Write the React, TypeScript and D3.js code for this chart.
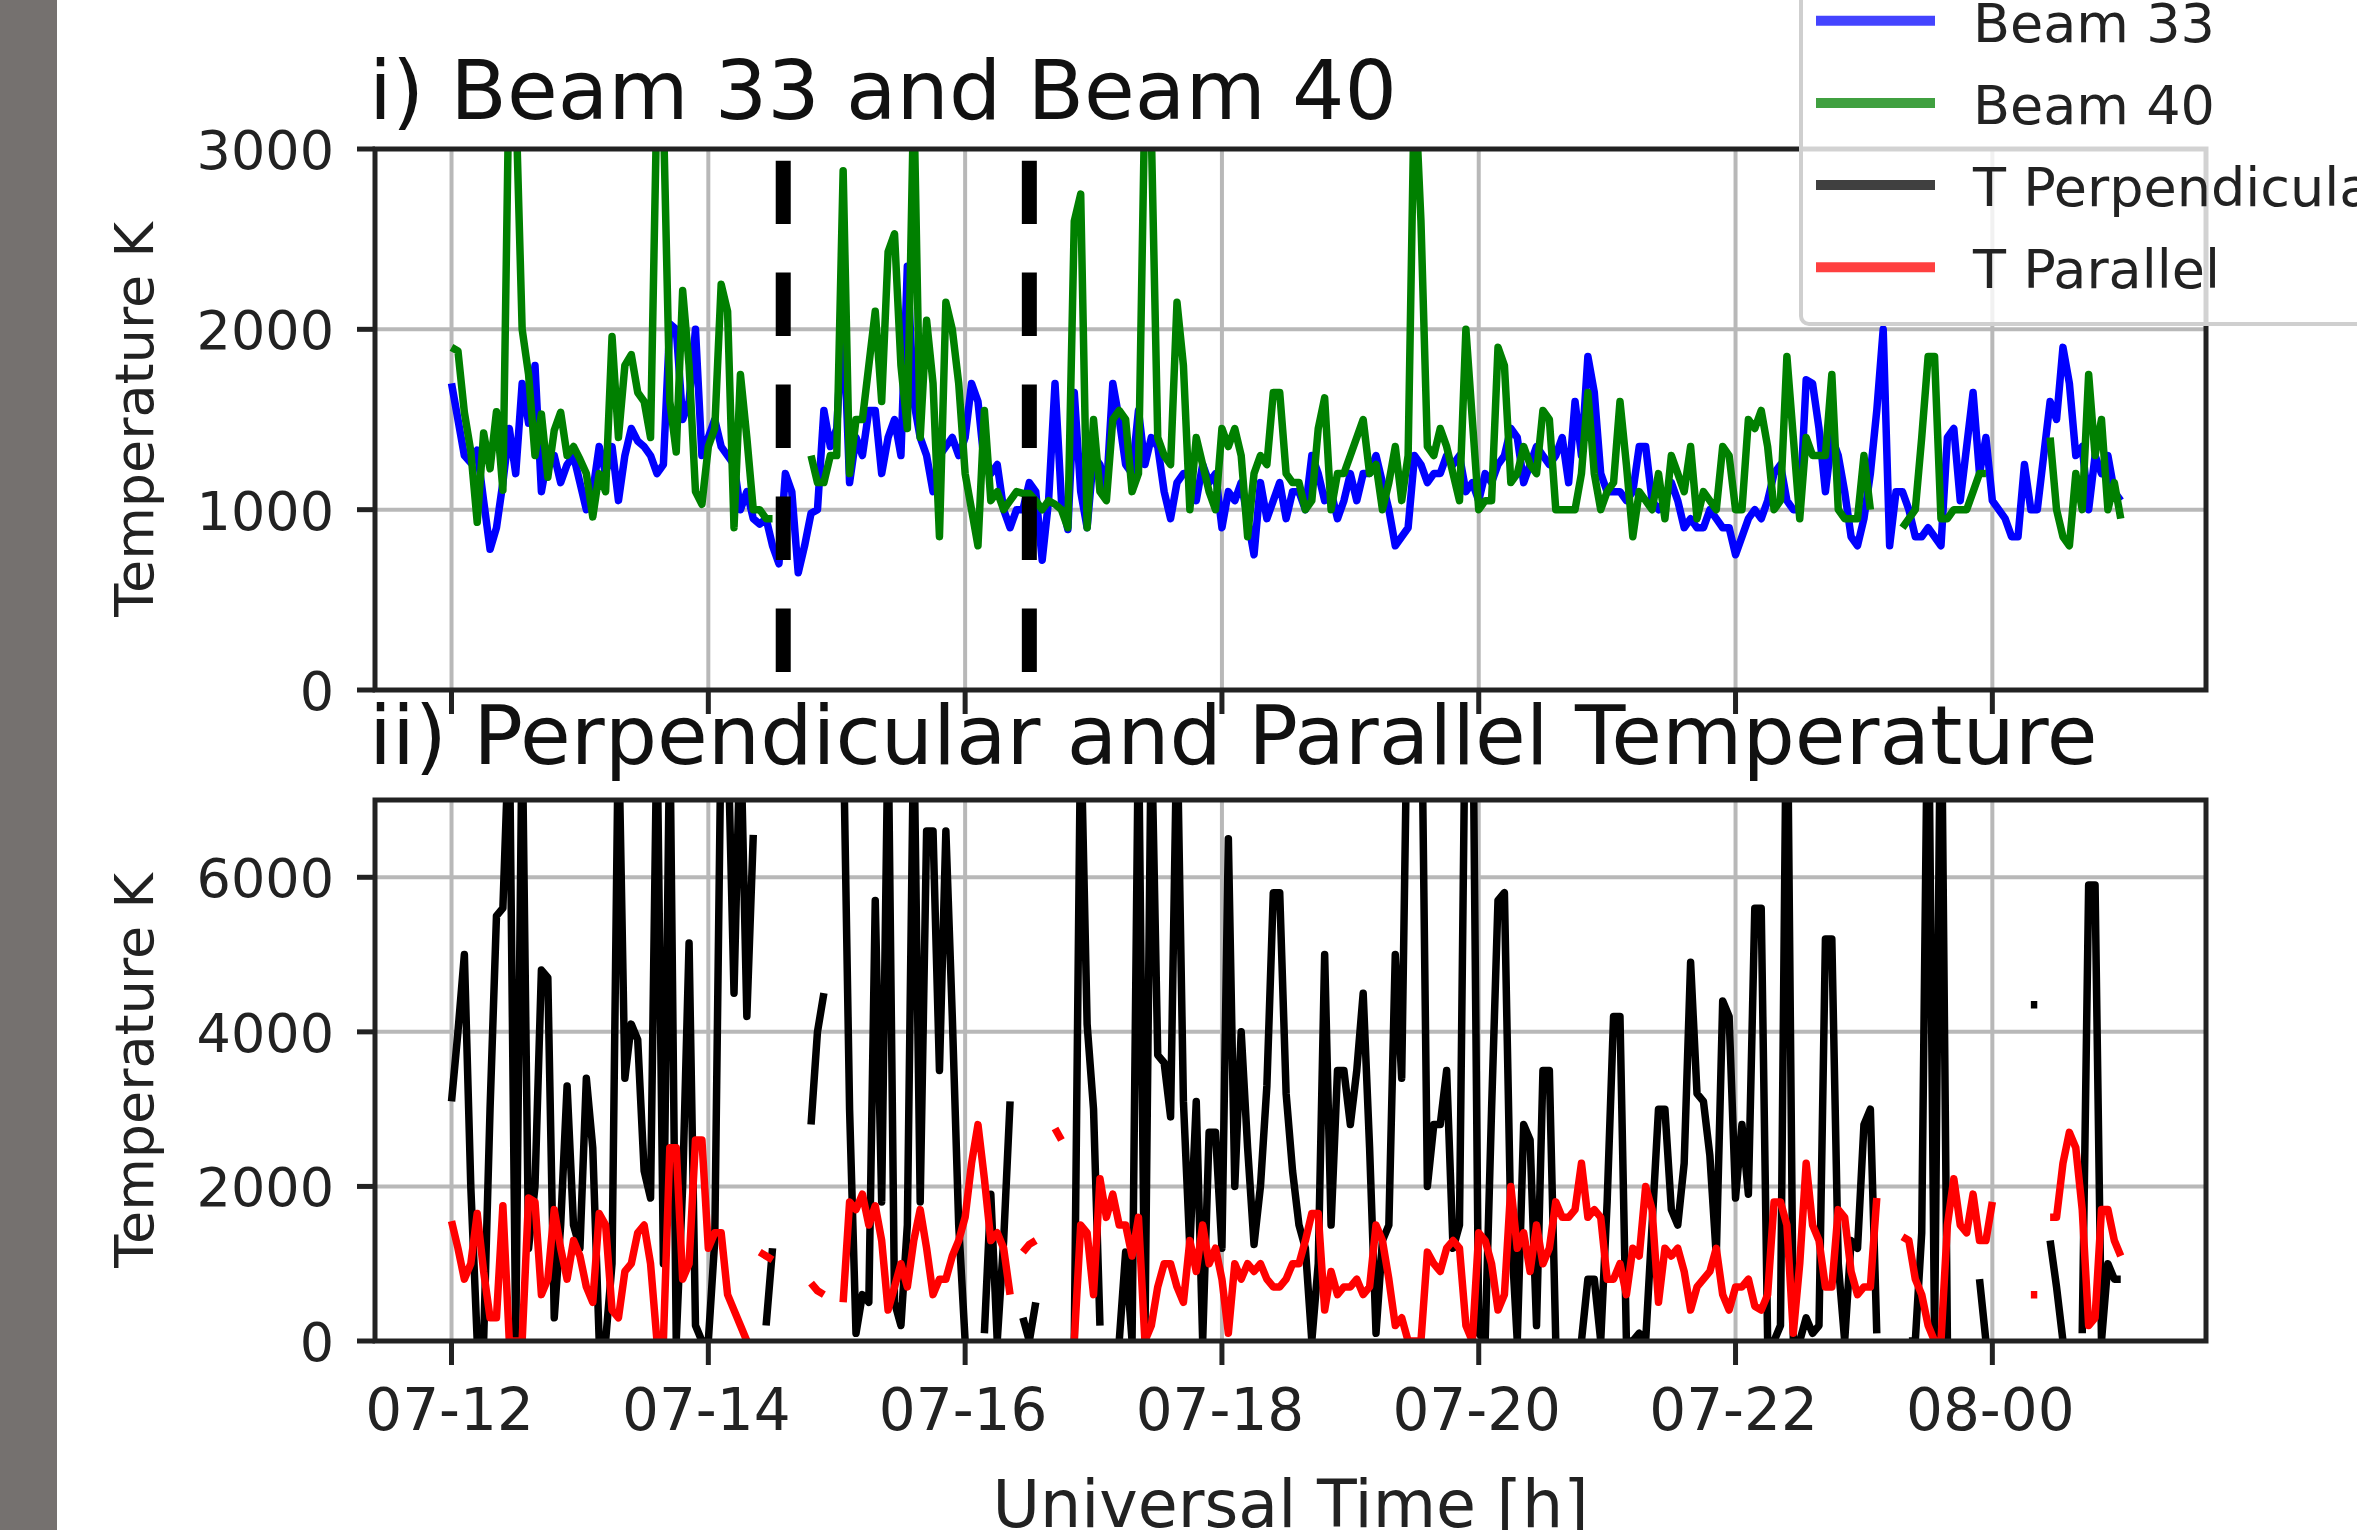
import { useEffect, useRef } from 'react';
import * as d3 from 'd3';

// canvas
const W = 2357;
const H = 1530;

// samples every 3 minutes, from 07 12:00 UT to 08 01:00 UT
const STEP_MIN = 3;

const beam33 = [
  1700, 1500, 1300, 1260, 1330, 1050, 780, 900, 1150, 1450,
  1200, 1700, 1480, 1800, 1100, 1300, 1300, 1150, 1250, 1300,
  1150, 1000, 1100, 1350, 1200, 1350, 1050, 1300, 1450, 1380,
  1350, 1300, 1200, 1250, 2030, 2000, 1500, 1600, 2000, 1300,
  1400, 1500, 1350, 1300, 1250, 1000, 1100, 950, 920, 950,
  800, 700, 1200, 1100, 650, 800, 980, 1000, 1550, 1350,
  1450, 2100, 1150, 1400, 1300, 1550, 1550, 1200, 1400, 1500,
  1300, 2350, 1600, 1400, 1300, 1100, 1300, 1350, 1400, 1300,
  1400, 1700, 1600, 1250, 1200, 1250, 1000, 900, 1000, 1000,
  1150, 1100, 720, 1050, 1700, 1050, 890, 1650, 1100, 900,
  1300, 1250, 1100, 1700, 1500, 1250, 1200, 1550, 1250, 1400,
  1350, 1100, 950, 1150, 1200, 1200, 1050, 1250, 1150, 1200,
  900, 1100, 1050, 1150, 950, 750, 1150, 950, 1050, 1150,
  950, 1100, 1100, 1000, 1300, 1200, 1050, 1100, 950, 1050,
  1200, 1050, 1200, 1200, 1300, 1150, 1000, 800, 850, 900,
  1300, 1250, 1150, 1200, 1200, 1300, 1250, 1300, 1100, 1150,
  1050, 1200, 1150, 1250, 1300, 1450, 1400, 1150, 1250, 1350,
  1300, 1250, 1300, 1400, 1150, 1600, 1300, 1850, 1650, 1200,
  1100, 1100, 1100, 1050, 1100, 1350, 1350, 1050, 1000, 1050,
  1150, 1050, 900, 950, 900, 900, 1000, 950, 900, 900,
  750, 850, 950, 1000, 950, 1050, 1200, 1250, 1050, 1000,
  1000, 1720, 1700, 1450, 1100, 1400, 1300, 1100, 850, 800,
  950, 1200, 1550, 2000, 800, 1100, 1100, 1000, 850, 850,
  900, 850, 800, 1400, 1450, 1050, 1350, 1650, 1200, 1400,
  1050, 1000, 950, 850, 850, 1250, 1000, 1000, 1300, 1600,
  1500, 1900, 1700, 1300, 1350, 1000, 1300, 1200, 1300, 1100, 1050,
];

const beam40 = [
  1900, 1880, 1540, 1325, 930, 1425, 1227, 1543, 1108, 3500,
  3300, 2000, 1750, 1300, 1530, 1180, 1440, 1540, 1300, 1350,
  1280, 1200, 960, 1200, 1100, 1960, 1400, 1800, 1860, 1650,
  1600, 1400, 3300, 3200, 1600, 1320, 2215, 1800, 1100, 1030,
  1350, 1450, 2250, 2100, 900, 1750, 1400, 1000, 1000, 950,
  950, null, null, null, null, null, 1300, 1150, 1150, 1300,
  1300, 2880, 1200, 1500, 1500, 1800, 2100, 1600, 2430, 2530,
  1800, 1450, 3300, 1400, 2050, 1700, 850, 2150, 2000, 1700,
  1200, 1000, 800, 1550, 1050, 1100, 1000, 1050, 1100, 1090,
  1090, 1050, 1000, 1050, 1030, 1000, 900, 2600, 2750, 900,
  1500, 1100, 1050, 1500, 1550, 1500, 1100, 1200, 3300, 3100,
  1400, 1300, 1250, 2150, 1800, 1000, 1400, 1250, 1100, 1000,
  1450, 1350, 1450, 1300, 850, 1200, 1300, 1250, 1650, 1650,
  1200, 1150, 1150, 1000, 1050, 1450, 1620, 1000, 1200, 1200,
  1300, 1400, 1500, 1200, 1250, 1000, 1150, 1350, 1050, 1300,
  3400, 2600, 1350, 1300, 1450, 1350, 1200, 1050, 2000, 1500,
  1000, 1050, 1050, 1900, 1800, 1150, 1200, 1350, 1250, 1200,
  1550, 1500, 1000, 1000, 1000, 1000, 1200, 1650, 1200, 1000,
  1100, 1150, 1600, 1250, 850, 1100, 1050, 1000, 1200, 950,
  1300, 1200, 1100, 1350, 950, 1100, 1050, 1000, 1350, 1300,
  1000, 1000, 1500, 1450, 1550, 1350, 1000, 1050, 1850, 1400,
  950, 1400, 1300, 1300, 1300, 1750, 1000, 950, 950, 950,
  1300, 1000, null, null, null, null, 900, 950, 1000, 1400,
  1850, 1850, 950, 950, 1000, 1000, 1000, 1100, 1200, 1200,
  null, null, null, null, null, null, null, null, null, 1400,
  1000, 850, 800, 1200, 1000, 1750, 1300, 1500, 1000, 1150, 950,
];

const tPerp = [
  3100, 4000, 5000, 2000, 0, 0, 3000, 5500, 5600, 8000,
  0, 8000, 1200, 2000, 4800, 4700, 300, 1500, 3300, 1500,
  1200, 3400, 2500, 0, 0, 1000, 8000, 3400, 4100, 3900,
  2200, 1850, 8000, 1000, 8000, 0, 2000, 5150, 200, 0,
  0, 1300, 8000, 8000, 4500, 8000, 4200, 6550, null, 200,
  1200, null, null, null, null, null, 2800, 4000, 4500, null,
  null, 8000, 3000, 100, 600, 500, 5700, 1800, 8000, 500,
  200, 1500, 8000, 1800, 6600, 6600, 3500, 6600, 4200, 1500,
  0, null, null, 100, 1900, 0, 1300, 3100, null, 300,
  0, 500, null, null, null, null, null, 0, 8000, 4100,
  3000, 200, null, null, 0, 1150, 0, 8000, 0, 8000,
  3700, 3600, 2900, 8000, 3100, 1200, 3100, 0, 2700, 2700,
  1200, 6500, 2000, 4000, 2500, 1250, 2000, 3300, 5800, 5800,
  3200, 2200, 1500, 1200, 0, 1000, 5000, 1500, 3500, 3500,
  2800, 3500, 4500, 2500, 100, 1300, 1500, 5000, 3400, 9000,
  9000, 9000, 2000, 2800, 2800, 3500, 1200, 1500, 9000, 9000,
  100, 0, 3000, 5700, 5800, 1500, 0, 2800, 2600, 200,
  3500, 3500, 0, null, null, null, 0, 800, 800, 0,
  1800, 4200, 4200, 0, 0, 100, 0, 1500, 3000, 3000,
  1700, 1500, 2300, 4900, 3200, 3100, 2400, 1100, 4400, 4200,
  1850, 2800, 1900, 5600, 5600, 0, 0, 200, 9000, 0,
  0, 300, 100, 200, 5200, 5200, 1000, 0, 1300, 1200,
  2800, 3000, 100, null, null, null, null, 0, 0, 1400,
  9000, 0, 9000, 0, null, null, null, null, 800, 0,
  null, null, null, null, null, null, 4350, 4350, null, 1300,
  700, 0, null, null, 100, 5900, 5900, 0, 1000, 800, 800,
];

const tPar = [
  1550, 1200, 800, 1000, 1650, 900, 300, 300, 1750, 0,
  0, 0, 1850, 1800, 600, 800, 1700, 1200, 800, 1300,
  1100, 700, 500, 1650, 1500, 400, 300, 900, 1000, 1400,
  1500, 1000, 0, 0, 2500, 2500, 800, 1000, 2600, 2600,
  1200, 1400, 1400, 600, 400, 200, 0, null, 1150, 1100,
  1050, null, null, null, null, null, 750, 650, 600, null,
  null, 500, 1800, 1700, 1900, 1500, 1750, 1300, 400, 700,
  1000, 700, 1300, 1700, 1200, 600, 800, 800, 1100, 1300,
  1600, 2300, 2800, 2100, 1300, 1400, 1200, 600, null, 1150,
  1250, 1300, null, null, 2750, 2600, null, 0, 1500, 1400,
  600, 2100, 1600, 1900, 1500, 1500, 1100, 1600, 0, 200,
  700, 1000, 1000, 700, 500, 1300, 900, 1500, 1000, 1200,
  800, 100, 1000, 800, 1000, 900, 1000, 800, 700, 700,
  800, 1000, 1000, 1300, 1650, 1650, 400, 900, 600, 700,
  700, 800, 600, 700, 1500, 1300, 800, 200, 300, 0,
  0, 0, 1150, 1000, 900, 1200, 1300, 1200, 200, 0,
  1400, 1300, 1000, 400, 600, 2000, 1200, 1400, 900, 1500,
  1000, 1200, 1800, 1600, 1600, 1700, 2300, 1600, 1700, 1600,
  800, 800, 1000, 600, 1200, 1100, 2000, 1700, 500, 1200,
  1100, 1200, 900, 400, 700, 800, 900, 1200, 600, 400,
  700, 700, 800, 450, 400, 600, 1800, 1800, 1500, 100,
  1000, 2300, 1500, 1300, 700, 700, 1700, 1600, 900, 600,
  700, 700, 1850, null, null, null, 1350, 1300, 800, 600,
  200, 0, 0, 1500, 2100, 1500, 1400, 1900, 1300, 1300,
  1800, null, null, null, null, null, 600, 600, null, 1600,
  1600, 2300, 2700, 2500, 1700, 200, 300, 1700, 1700, 1300, 1100,
];

const topTicks = [0, 1000, 2000, 3000];
const bottomTicks = [0, 2000, 4000, 6000];
// event markers, minutes after 07 12:00 UT
const eventMinutes = [155, 270];
const eventRange = [100, 2935];

const legendLabels = ['Beam 33', 'Beam 40', 'T Perpendicular', 'T Parallel'];
const legendColors = ['#4444ff', '#40a040', '#404040', '#ff4040'];

export default function App() {
  const ref = useRef<SVGSVGElement>(null);

  useEffect(() => {
    if (!ref.current) return;
    const svg = d3.select(ref.current);
    svg.selectAll('*').remove();

    const font = 'DejaVu Sans, sans-serif';
    const ink = '#222';
    const left = 375, right = 2206;

    const t0 = Date.UTC(2000, 0, 7, 12);
    const hour = 3600000;
    const when = (i: number) => new Date(t0 + i * STEP_MIN * 60000);

    const x = d3.scaleUtc()
      .domain([new Date(t0 - 0.596 * hour), new Date(t0 + 13.664 * hour)])
      .range([left, right]);
    const xTicks = x.ticks(d3.utcHour.every(2) as any);
    const fmt = d3.utcFormat('%d-%H');

    svg.append('rect').attr('width', W).attr('height', H).attr('fill', '#fff');
    svg.append('rect').attr('width', 57).attr('height', H).attr('fill', '#75716f');

    const drawPanel = (
      top: number, bottom: number, ymax: number, ticks: number[],
      series: { data: (number | null)[]; color: string }[],
      title: string, titleY: number, id: string, labels: boolean
    ) => {
      const y = d3.scaleLinear().domain([0, ymax]).range([bottom, top]);
      const g = svg.append('g');

      g.append('clipPath').attr('id', id)
        .append('rect').attr('x', left).attr('y', top)
        .attr('width', right - left).attr('height', bottom - top);

      // grid
      g.selectAll('.vg').data(xTicks).enter().append('line')
        .attr('x1', d => x(d)).attr('x2', d => x(d))
        .attr('y1', top).attr('y2', bottom)
        .attr('stroke', '#b8b8b8').attr('stroke-width', 4);
      g.selectAll('.hg').data(ticks).enter().append('line')
        .attr('x1', left).attr('x2', right)
        .attr('y1', d => y(d)).attr('y2', d => y(d))
        .attr('stroke', '#b8b8b8').attr('stroke-width', 4);

      const line = d3.line<number | null>()
        .defined(v => v != null)
        .x((_, i) => x(when(i)))
        .y(v => y(v as number));

      const plot = g.append('g').attr('clip-path', `url(#${id})`);
      series.forEach(s => {
        plot.append('path')
          .datum(s.data)
          .attr('fill', 'none')
          .attr('stroke', s.color)
          .attr('stroke-width', 7.5)
          .attr('stroke-linejoin', 'round')
          .attr('d', line);
      });

      // frame
      g.append('rect')
        .attr('x', left).attr('y', top)
        .attr('width', right - left).attr('height', bottom - top)
        .attr('fill', 'none').attr('stroke', ink).attr('stroke-width', 5);

      // y ticks
      ticks.forEach(t => {
        g.append('line')
          .attr('x1', left - 18).attr('x2', left)
          .attr('y1', y(t)).attr('y2', y(t))
          .attr('stroke', ink).attr('stroke-width', 5);
        g.append('text')
          .attr('x', 334).attr('y', y(t) + 20)
          .attr('text-anchor', 'end')
          .style('font-family', font).style('font-size', '54px')
          .attr('fill', ink)
          .text(t);
      });

      // x ticks
      xTicks.forEach(t => {
        g.append('line')
          .attr('x1', x(t)).attr('x2', x(t))
          .attr('y1', bottom).attr('y2', bottom + 24)
          .attr('stroke', ink).attr('stroke-width', 5);
        if (labels) {
          g.append('text')
            .attr('x', x(t) - 2).attr('y', 1430)
            .attr('text-anchor', 'middle')
            .style('font-family', font).style('font-size', '58px')
            .attr('fill', ink)
            .text(fmt(t));
        }
      });

      g.append('text')
        .attr('transform', `translate(153,${(top + bottom) / 2}) rotate(-90)`)
        .attr('text-anchor', 'middle')
        .style('font-family', font).style('font-size', '54px')
        .attr('fill', ink)
        .text('Temperature K');

      g.append('text')
        .attr('x', 369).attr('y', titleY)
        .style('font-family', font).style('font-size', '82.5px')
        .attr('fill', '#111')
        .text(title);

      return y;
    };

    const yTop = drawPanel(149, 690, 3000, topTicks,
      [{ data: beam33, color: '#0000ff' }, { data: beam40, color: '#008000' }],
      'i) Beam 33 and Beam 40', 119, 'clip-top', false);

    // dashed event markers, drawn upward from the lower end
    svg.append('g').selectAll('path').data(eventMinutes).enter().append('path')
      .attr('d', m => {
        const xx = x(new Date(t0 + m * 60000));
        return `M${xx},${yTop(eventRange[0])}L${xx},${yTop(eventRange[1])}`;
      })
      .attr('stroke', '#000').attr('stroke-width', 15)
      .attr('stroke-dasharray', '63.5 48.5');

    drawPanel(800, 1341, 7000, bottomTicks,
      [{ data: tPerp, color: '#000000' }, { data: tPar, color: '#ff0000' }],
      'ii) Perpendicular and Parallel Temperature', 764, 'clip-bottom', true);

    svg.append('text')
      .attr('x', (left + right) / 2).attr('y', 1527)
      .attr('text-anchor', 'middle')
      .style('font-family', font).style('font-size', '65px')
      .attr('fill', ink)
      .text('Universal Time [h]');

    // legend (runs off the top-right corner)
    const lg = svg.append('g');
    lg.append('rect')
      .attr('x', 1801).attr('y', -30).attr('width', 700).attr('height', 354)
      .attr('rx', 8)
      .attr('fill', '#fff').attr('fill-opacity', 0.8)
      .attr('stroke', '#cfcfcf').attr('stroke-width', 4);
    legendLabels.forEach((lab, i) => {
      const cy = 20.7 + i * 82.2;
      lg.append('line')
        .attr('x1', 1816).attr('x2', 1935).attr('y1', cy).attr('y2', cy)
        .attr('stroke', legendColors[i]).attr('stroke-width', 10);
      lg.append('text')
        .attr('x', 1973).attr('y', cy + 21)
        .style('font-family', font).style('font-size', '54px')
        .attr('fill', ink)
        .text(lab);
    });
  }, []);

  return (
    <svg
      ref={ref}
      width={W}
      height={H}
      style={{ position: 'absolute', left: 0, top: 0, display: 'block' }}
    />
  );
}
